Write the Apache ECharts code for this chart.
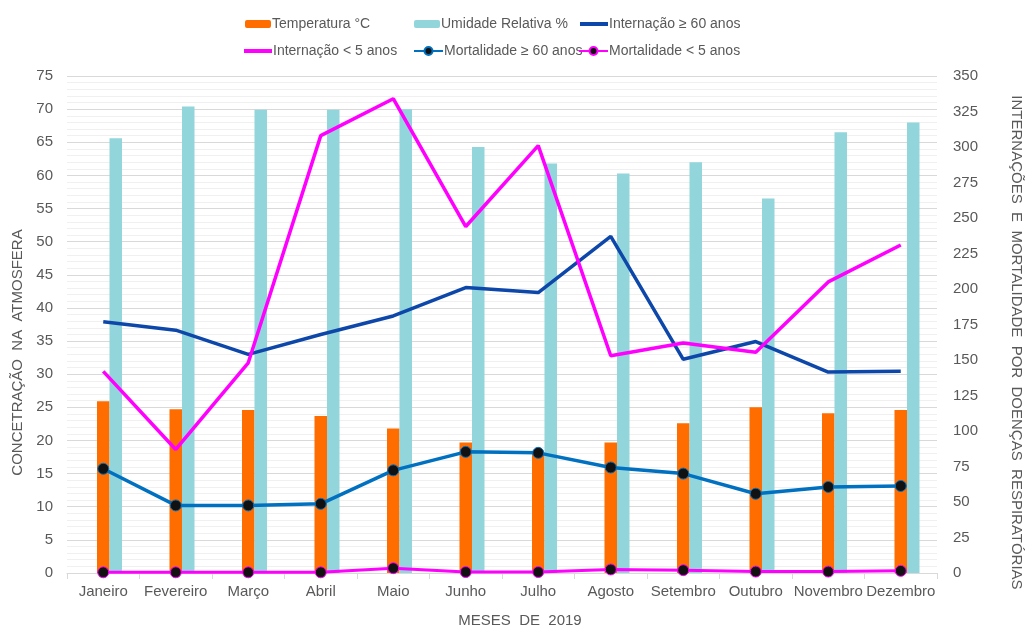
<!DOCTYPE html>
<html>
<head>
<meta charset="utf-8">
<script src="https://cdn.jsdelivr.net/npm/echarts@6/dist/echarts.min.js"></script>
<style>
html,body{margin:0;padding:0;background:#fff;}
#chart{width:1032px;height:633px;}
</style>
</head>
<body>
<div id="chart"></div>
<script>
const months = ['Janeiro','Fevereiro','Março','Abril','Maio','Junho','Julho','Agosto','Setembro','Outubro','Novembro','Dezembro'];
const temperatura = [25.9, 24.7, 24.6, 23.7, 21.8, 19.7, 18.1, 19.7, 22.6, 25.0, 24.1, 24.6];
const umidade = [65.6, 70.4, 69.9, 69.9, 70.0, 64.3, 61.8, 60.3, 62.0, 56.5, 66.5, 68.0];
const internacao60 = [177, 171, 154, 168, 181, 201, 197.5, 237, 150.5, 163, 141.5, 142];
const internacao5 = [142, 87, 148, 308, 334, 244, 301, 153, 162, 155.5, 205, 231];
const mortalidade60 = [73.4, 47.6, 47.6, 48.7, 72.3, 85.3, 84.6, 74.3, 70.0, 55.8, 60.6, 61.3];
const mortalidade5 = [0.5, 0.5, 0.5, 0.5, 3.4, 0.7, 0.7, 2.5, 2.0, 1.0, 1.0, 1.5];
const leftTicks = {min: 0, max: 75, interval: 5};
const rightTicks = {min: 0, max: 350, interval: 25};

const TXT = '#595959';
const FONT = 'Liberation Sans, Arial, sans-serif';
const C_ORANGE = '#FF6D00';
const C_CYAN = '#92D6DC';
const C_DBLUE = '#0D47A9';
const C_PINK = '#FF00FF';
const C_MBLUE = '#0070C0';

function leg(name, left, top, kind) {
  const item = {name: name};
  let w = 26, h = 8;
  if (kind === 'line') { item.icon = 'rect'; w = 28; h = 4; }
  if (kind === 'marker') { w = 29; h = 10; }
  return {
    data: [item], left: left, top: top, orient: 'horizontal',
    itemWidth: w, itemHeight: h, itemGap: 0, padding: 0,
    textStyle: {color: TXT, fontSize: 14, fontFamily: FONT, padding: [0,0,0,-4]},
    selectedMode: false
  };
}

const chart = echarts.init(document.getElementById('chart'), null, {renderer: 'canvas'});
chart.setOption({
  animation: false,
  backgroundColor: '#fff',
  legend: [
    leg('Temperatura °C', 245, 17, 'bar'),
    leg('Umidade Relativa %', 414, 17, 'bar'),
    leg('Internação ≥ 60 anos', 580, 17, 'line'),
    leg('Internação < 5 anos', 244, 44, 'line'),
    leg('Mortalidade ≥ 60 anos', 413, 44, 'marker'),
    leg('Mortalidade < 5 anos', 578, 44, 'marker')
  ],
  grid: {left: 67, right: 83, top: 76, bottom: 47, containLabel: false},
  xAxis: {
    type: 'category', data: months,
    name: 'MESES  DE  2019', nameLocation: 'middle', nameGap: 40,
    nameTextStyle: {color: TXT, fontSize: 15, fontFamily: FONT, padding: [0,0,0,36]},
    axisLine: {lineStyle: {color: '#D9D9D9', width: 1}},
    axisTick: {show: true, length: 6, lineStyle: {color: '#D9D9D9'}},
    axisLabel: {color: TXT, fontSize: 15, fontFamily: FONT, margin: 11, interval: 0}
  },
  yAxis: [
    {
      type: 'value', min: leftTicks.min, max: leftTicks.max, interval: leftTicks.interval,
      name: 'CONCETRAÇÃO  NA  ATMOSFERA', nameLocation: 'middle', nameGap: 40, nameRotate: 90,
      nameTextStyle: {color: TXT, fontSize: 15, fontFamily: FONT, padding: [0,56,0,0]},
      axisLine: {show: false}, axisTick: {show: false},
      axisLabel: {color: TXT, fontSize: 15, fontFamily: FONT, margin: 14},
      splitLine: {show: true, lineStyle: {color: '#D9D9D9', width: 1}},
      minorTick: {show: false, splitNumber: 5},
      minorSplitLine: {show: true, lineStyle: {color: '#F0F0F0', width: 1}}
    },
    {
      type: 'value', min: rightTicks.min, max: rightTicks.max, interval: rightTicks.interval,
      position: 'right',
      name: 'INTERNAÇÕES  E  MORTALIDADE  POR  DOENÇAS  RESPIRATÓRIAS', nameLocation: 'middle', nameGap: 72, nameRotate: -90,
      nameTextStyle: {color: TXT, fontSize: 15, fontFamily: FONT, padding: [0,0,0,36]},
      axisLine: {show: false}, axisTick: {show: false},
      axisLabel: {color: TXT, fontSize: 15, fontFamily: FONT, margin: 16},
      splitLine: {show: false}
    }
  ],
  series: [
    {name: '_pad', type: 'bar', yAxisIndex: 0, data: months.map(() => null), barWidth: 12.5, barGap: '0%', silent: true},
    {name: 'Temperatura °C', type: 'bar', yAxisIndex: 0, data: temperatura, barWidth: 12.5, barGap: '0%', itemStyle: {color: C_ORANGE}},
    {name: 'Umidade Relativa %', type: 'bar', yAxisIndex: 0, data: umidade, barWidth: 12.5, barGap: '0%', itemStyle: {color: C_CYAN}},
    {name: 'Internação ≥ 60 anos', type: 'line', yAxisIndex: 1, data: internacao60, symbol: 'none', lineStyle: {color: C_DBLUE, width: 3.5}, itemStyle: {color: C_DBLUE}, z: 3},
    {name: 'Internação < 5 anos', type: 'line', yAxisIndex: 1, data: internacao5, symbol: 'none', lineStyle: {color: C_PINK, width: 3.5}, itemStyle: {color: C_PINK}, z: 4},
    {name: 'Mortalidade ≥ 60 anos', type: 'line', yAxisIndex: 1, data: mortalidade60, symbol: 'circle', symbolSize: 11, showSymbol: true,
     lineStyle: {color: C_MBLUE, width: 3.5}, itemStyle: {color: '#111', borderColor: C_MBLUE, borderWidth: 1}, z: 5},
    {name: 'Mortalidade < 5 anos', type: 'line', yAxisIndex: 1, data: mortalidade5, symbol: 'circle', symbolSize: 11, showSymbol: true,
     lineStyle: {color: C_PINK, width: 3}, itemStyle: {color: '#111', borderColor: C_PINK, borderWidth: 1}, z: 6}
  ]
});
</script>
</body>
</html>
